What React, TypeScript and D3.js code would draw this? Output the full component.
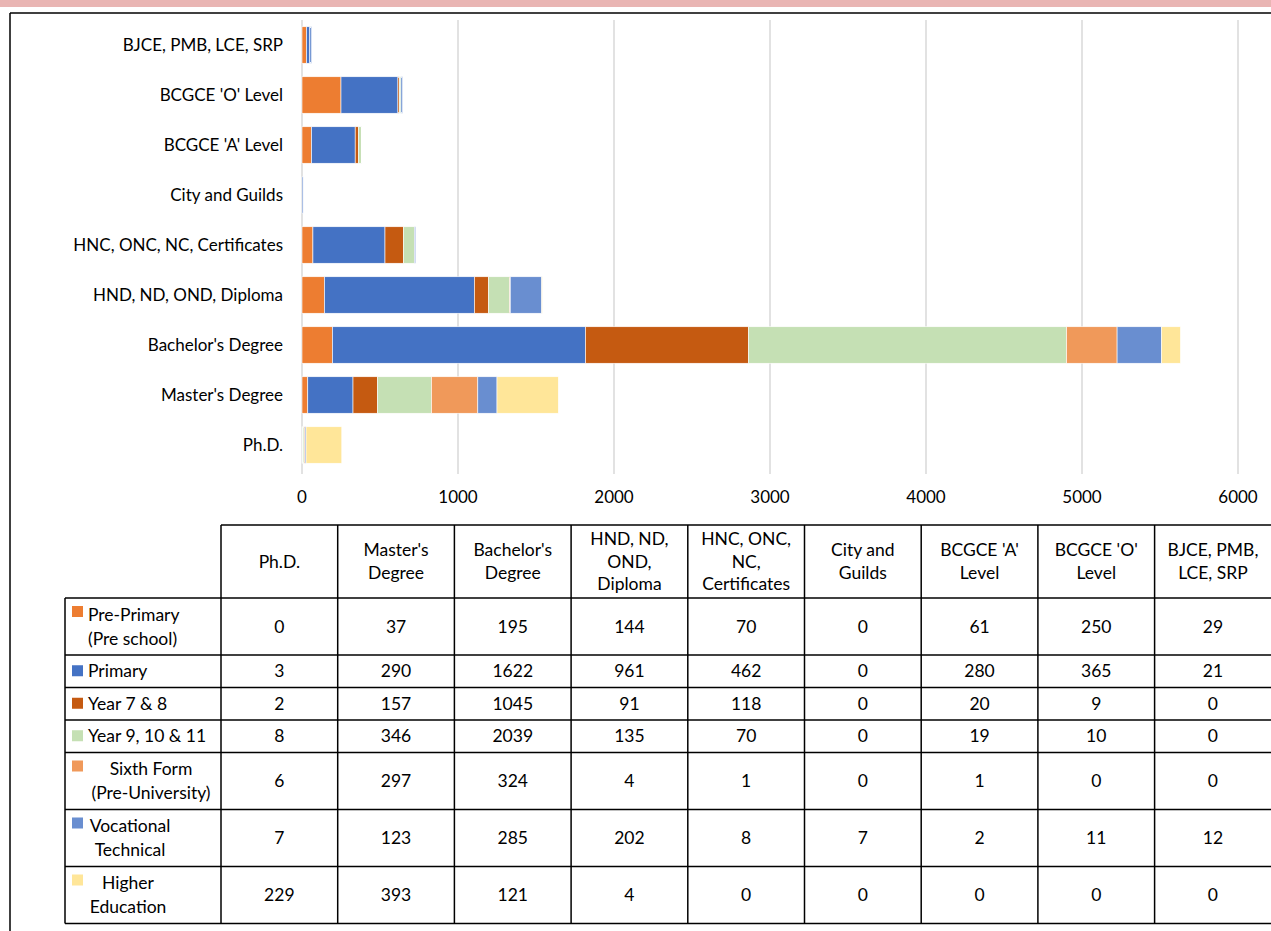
import React from 'react';
import * as d3 from 'd3';

// categories in table order (bottom of chart to top)
const categories = [
  "Ph.D.",
  "Master's Degree",
  "Bachelor's Degree",
  "HND, ND, OND, Diploma",
  "HNC, ONC, NC, Certificates",
  "City and Guilds",
  "BCGCE 'A' Level",
  "BCGCE 'O' Level",
  "BJCE, PMB, LCE, SRP",
];
const headerLines = [
  ["Ph.D."],
  ["Master's", "Degree"],
  ["Bachelor's", "Degree"],
  ["HND, ND,", "OND,", "Diploma"],
  ["HNC, ONC,", "NC,", "Certificates"],
  ["City and", "Guilds"],
  ["BCGCE 'A'", "Level"],
  ["BCGCE 'O'", "Level"],
  ["BJCE, PMB,", "LCE, SRP"],
];

const seriesNames = [
  'Pre-Primary (Pre school)',
  'Primary',
  'Year 7 & 8',
  'Year 9, 10 & 11',
  'Sixth Form (Pre-University)',
  'Vocational Technical',
  'Higher Education',
];
const seriesLines = [
  ['Pre-Primary', '(Pre school)'],
  ['Primary'],
  ['Year 7 & 8'],
  ['Year 9, 10 & 11'],
  ['Sixth Form', '(Pre-University)'],
  ['Vocational', 'Technical'],
  ['Higher', 'Education'],
];
const prePrimary = [0, 37, 195, 144, 70, 0, 61, 250, 29];
const primary = [3, 290, 1622, 961, 462, 0, 280, 365, 21];
const year78 = [2, 157, 1045, 91, 118, 0, 20, 9, 0];
const year911 = [8, 346, 2039, 135, 70, 0, 19, 10, 0];
const sixthForm = [6, 297, 324, 4, 1, 0, 1, 0, 0];
const vocational = [7, 123, 285, 202, 8, 7, 2, 11, 12];
const higherEd = [229, 393, 121, 4, 0, 0, 0, 0, 0];
const seriesValues = [prePrimary, primary, year78, year911, sixthForm, vocational, higherEd];
const xTicks = [0, 1000, 2000, 3000, 4000, 5000, 6000];

const colors = ['#ED7D31', '#4472C4', '#C55A11', '#C5E0B4', '#F0995A', '#698ED0', '#FFE699'];

const FONT = 'Lato, "Open Sans", sans-serif';

// where each legend label sits in its cell (null = left aligned after the swatch)
const legendCenter: (number | null)[] = [null, null, null, null, 151, 130, 128];

export default function App() {
  const W = 1271;
  const H = 931;

  const x = d3.scaleLinear().domain([0, 6000]).range([302, 1238]);
  const y = d3
    .scaleBand<string>()
    .domain([...categories].reverse())
    .range([20, 470])
    .paddingInner(0.27)
    .paddingOuter(0.135);

  const rows = categories.map((c, i) => {
    const r: Record<string, number | string> = { cat: c };
    seriesNames.forEach((s, k) => (r[s] = seriesValues[k][i]));
    return r;
  });
  const stacked = d3.stack<Record<string, number | string>>().keys(seriesNames)(rows as any);

  // table layout
  const tableLeft = 65;
  const firstCol = 221;
  const colW = 116.7;
  const headTop = 525;
  const headBottom = 598;
  const lineH = 24.5;
  const rowHeights = seriesLines.map(l => 8 + l.length * lineH);
  const rowTops: number[] = [];
  rowHeights.reduce((acc, h) => {
    rowTops.push(acc);
    return acc + h;
  }, headBottom);
  const tableBottom = rowTops[rowTops.length - 1] + rowHeights[rowHeights.length - 1];
  const colX = (i: number) => firstCol + i * colW;

  return (
    <div style={{ position: 'absolute', left: 0, top: 0 }}>
      <svg width={W} height={H} style={{ display: 'block', background: '#fff' }} fontFamily={FONT}>
        <rect x={0} y={0} width={W} height={7} fill="#E9B5B3" />
        <line x1={10} x2={W} y1={13} y2={13} stroke="#000" strokeWidth={1.5} />
        <line x1={10} x2={10} y1={13} y2={H} stroke="#000" strokeWidth={1.5} />

        {/* gridlines */}
        {xTicks.map(t => (
          <line key={t} x1={x(t)} x2={x(t)} y1={20} y2={474} stroke="#D9D9D9" strokeWidth={1.5} />
        ))}
        {xTicks.map(t => (
          <text key={'t' + t} x={x(t)} y={503} textAnchor="middle" fontSize={17} fill="#000">
            {t}
          </text>
        ))}

        {/* bars */}
        {stacked.map((layer, k) => (
          <g key={k} fill={colors[k]}>
            {layer.map((d, i) =>
              d[1] - d[0] > 0 ? (
                <rect
                  key={i}
                  x={x(d[0])}
                  y={y(categories[i])}
                  width={x(d[1]) - x(d[0])}
                  height={y.bandwidth()}
                  stroke="#fff"
                  strokeWidth={0.6}
                />
              ) : null
            )}
          </g>
        ))}

        {/* category labels */}
        {categories.map(c => (
          <text
            key={c}
            x={283}
            y={(y(c) as number) + y.bandwidth() / 2}
            dy="0.35em"
            textAnchor="end"
            fontSize={17}
            fill="#000"
          >
            {c}
          </text>
        ))}

        {/* table header */}
        {headerLines.map((lines, i) => {
          const cy = (headTop + headBottom) / 2;
          const lh = 22.5;
          return (
            <g key={'h' + i}>
              {lines.map((ln, j) => (
                <text
                  key={j}
                  x={colX(i) + colW / 2}
                  y={cy + (j - (lines.length - 1) / 2) * lh}
                  dy="0.35em"
                  textAnchor="middle"
                  fontSize={17.5}
                  fill="#000"
                >
                  {ln}
                </text>
              ))}
            </g>
          );
        })}

        {/* table body */}
        {seriesLines.map((lines, k) => {
          const top = rowTops[k];
          const h = rowHeights[k];
          const cy = top + h / 2;
          const twoLine = lines.length > 1;
          const c = legendCenter[k];
          return (
            <g key={'r' + k}>
              <rect
                x={72}
                y={twoLine ? top + 8 : cy - 6}
                width={11}
                height={11}
                fill={colors[k]}
              />
              {lines.map((ln, j) => (
                <text
                  key={j}
                  x={c === null ? 88 : c}
                  y={cy + (j - (lines.length - 1) / 2) * 24}
                  dy="0.35em"
                  textAnchor={c === null ? 'start' : 'middle'}
                  fontSize={17.5}
                  fill="#000"
                >
                  {ln}
                </text>
              ))}
              {seriesValues[k].map((v, i) => (
                <text
                  key={'v' + i}
                  x={colX(i) + colW / 2}
                  y={cy}
                  dy="0.35em"
                  textAnchor="middle"
                  fontSize={17.5}
                  fill="#000"
                >
                  {v}
                </text>
              ))}
            </g>
          );
        })}

        {/* table grid */}
        <g stroke="#000" strokeWidth={1.5} fill="none">
          <line x1={firstCol} x2={W} y1={headTop} y2={headTop} />
          <line x1={tableLeft} x2={W} y1={headBottom} y2={headBottom} />
          {rowTops.map((t, k) => (
            <line key={'rl' + k} x1={tableLeft} x2={W} y1={t + rowHeights[k]} y2={t + rowHeights[k]} />
          ))}
          <line x1={tableLeft} x2={tableLeft} y1={headBottom} y2={tableBottom} />
          {categories.map((_, i) => (
            <line key={'cl' + i} x1={colX(i)} x2={colX(i)} y1={headTop} y2={tableBottom} />
          ))}
        </g>
      </svg>
    </div>
  );
}
